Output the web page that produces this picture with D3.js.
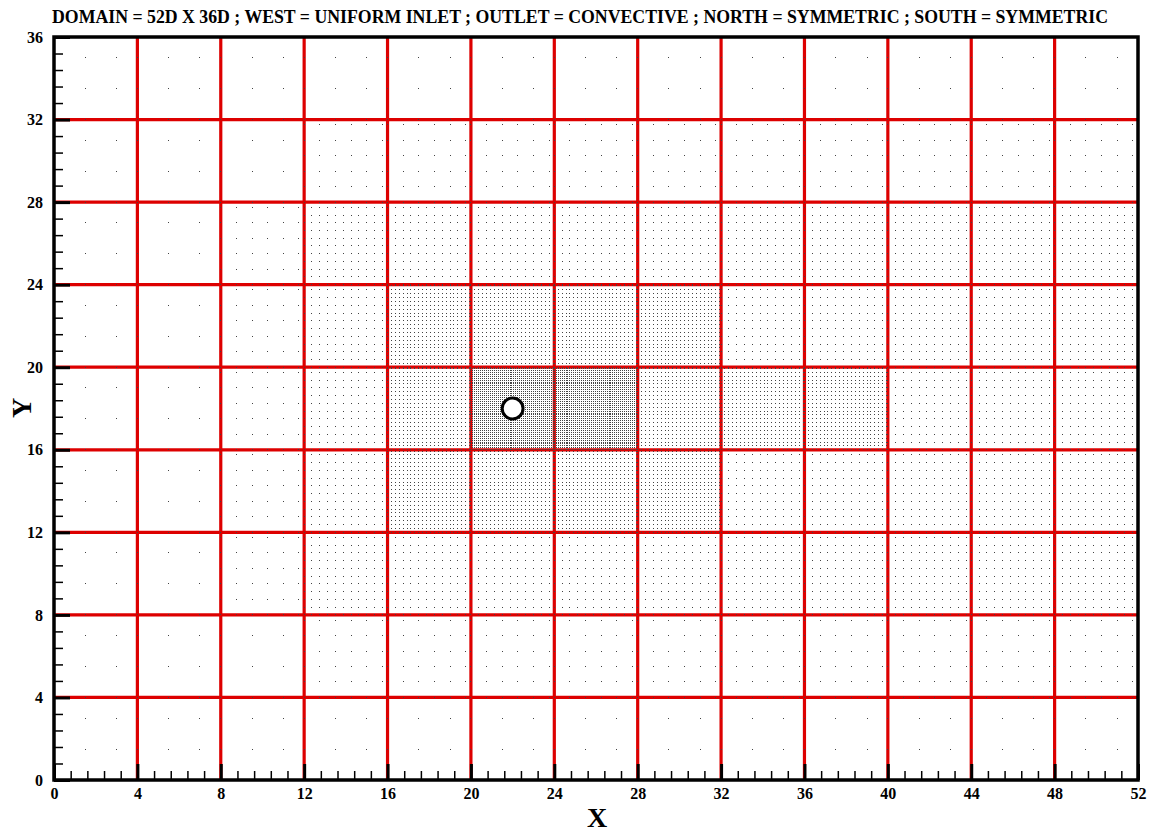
<!DOCTYPE html>
<html>
<head>
<meta charset="utf-8">
<script src="https://cdn.jsdelivr.net/npm/d3@7"></script>
<style>
  body { margin: 0; background: #fff; }
  text { font-family: "Liberation Serif", "Times New Roman", serif; font-weight: bold; fill: #000; }
</style>
</head>
<body>
<div id="chart"></div>
<script>
// chart text
var titleText = "DOMAIN = 52D X 36D ; WEST = UNIFORM INLET ; OUTLET = CONVECTIVE ; NORTH = SYMMETRIC ; SOUTH = SYMMETRIC";
var xTitle = "X";
var yTitle = "Y";

// tick labels
var xTicks = [0, 4, 8, 12, 16, 20, 24, 28, 32, 36, 40, 44, 48, 52];
var yTicks = [0, 4, 8, 12, 16, 20, 24, 28, 32, 36];
var minorStep = 0.8;

// red block grid lines
var gridX = [4, 8, 12, 16, 20, 24, 28, 32, 36, 40, 44, 48];
var gridY = [4, 8, 12, 16, 20, 24, 28, 32];
var blockSize = 4;

// mesh refinement zones (later zones are finer)
var zoneX0 = [0, 12, 8, 12, 16, 32, 20];
var zoneX1 = [52, 52, 12, 52, 32, 40, 28];
var zoneY0 = [0, 4, 8, 8, 12, 16, 16];
var zoneY1 = [36, 32, 28, 28, 24, 20, 20];
var zoneSpacing = [1.5, 0.75, 0.75, 0.375, 0.1875, 0.1875, 0.09375];

// cylinder
var cylX = [22];
var cylY = [18];
var cylD = [1];

var width = 1158;
var height = 832;
var plotLeft = 54, plotRight = 1138, plotTop = 37, plotBottom = 780;

var svg = d3.select("#chart")
    .append("svg")
    .attr("width", width)
    .attr("height", height);

svg.append("rect").attr("width", width).attr("height", height).attr("fill", "#fff");

var xScale = d3.scaleLinear().domain([0, 52]).range([plotLeft, plotRight]);
var yScale = d3.scaleLinear().domain([0, 36]).range([plotBottom, plotTop]);

// red grid
var grid = svg.append("g").attr("stroke", "#dd0000").attr("stroke-width", 3.2);
grid.selectAll("line.gx").data(gridX).enter().append("line")
    .attr("x1", function(d){ return xScale(d); })
    .attr("x2", function(d){ return xScale(d); })
    .attr("y1", yScale(36))
    .attr("y2", yScale(0));
grid.selectAll("line.gy").data(gridY).enter().append("line")
    .attr("y1", function(d){ return yScale(d); })
    .attr("y2", function(d){ return yScale(d); })
    .attr("x1", xScale(0))
    .attr("x2", xScale(52));

// mesh points: each 4x4 block uses the finest zone that covers it
function spacingAt(cx, cy) {
    var h = 99;
    for (var i = 0; i < zoneSpacing.length; i++) {
        if (cx > zoneX0[i] && cx < zoneX1[i] && cy > zoneY0[i] && cy < zoneY1[i]) {
            h = Math.min(h, zoneSpacing[i]);
        }
    }
    return h;
}

var dotPath = "";
for (var bx = 0; bx < 52; bx += blockSize) {
    for (var by = 0; by < 36; by += blockSize) {
        var h = spacingAt(bx + blockSize / 2, by + blockSize / 2);
        for (var i = 0; i * h < blockSize - 1e-9; i++) {
            for (var j = 0; j * h < blockSize - 1e-9; j++) {
                var px = Math.floor(xScale(bx + i * h));
                var py = Math.floor(yScale(by + j * h));
                dotPath += "M" + px + "," + py + "h1v1h-1z";
            }
        }
    }
}
svg.append("path").attr("d", dotPath).attr("fill", "#444");

// axes ticks (inward)
var xMinor = d3.range(0, 52 + 1e-9, minorStep).filter(function(v){ return Math.abs(v / 4 - Math.round(v / 4)) > 1e-6; });
var yMinor = d3.range(0, 36 + 1e-9, minorStep).filter(function(v){ return Math.abs(v / 4 - Math.round(v / 4)) > 1e-6; });

var xMinorAxis = d3.axisBottom(xScale).tickValues(xMinor).tickSize(-9).tickFormat("");
var yMinorAxis = d3.axisLeft(yScale).tickValues(yMinor).tickSize(-9).tickFormat("");
var xAxis = d3.axisBottom(xScale).tickValues(xTicks).tickSize(-16).tickPadding(8).tickFormat(d3.format("d"));
var yAxis = d3.axisLeft(yScale).tickValues(yTicks).tickSize(-16).tickPadding(11).tickFormat(d3.format("d"));

function styleAxis(g, w) {
    g.attr("font-size", null).attr("font-family", null);
    g.select(".domain").remove();
    g.selectAll(".tick line").attr("stroke", "#000").attr("stroke-width", w);
    g.selectAll(".tick text").style("font-size", "16px").attr("fill", "#000");
}

svg.append("g").attr("transform", `translate(0, ${plotBottom})`).call(xMinorAxis).call(styleAxis, 1.5);
svg.append("g").attr("transform", `translate(${plotLeft}, 0)`).call(yMinorAxis).call(styleAxis, 1.5);
svg.append("g").attr("transform", `translate(0, ${plotBottom})`).call(xAxis).call(styleAxis, 3);
svg.append("g").attr("transform", `translate(${plotLeft}, 0)`).call(yAxis).call(styleAxis, 3);

// cylinder
svg.selectAll("circle.cyl").data(cylX).enter().append("circle")
    .attr("cx", function(d){ return xScale(d); })
    .attr("cy", function(d, i){ return yScale(cylY[i]); })
    .attr("r", function(d, i){ return xScale(cylD[i] / 2) - xScale(0); })
    .attr("fill", "#fff")
    .attr("stroke", "#000")
    .attr("stroke-width", 3);

// frame
svg.append("rect")
    .attr("x", plotLeft).attr("y", plotTop)
    .attr("width", plotRight - plotLeft).attr("height", plotBottom - plotTop)
    .attr("fill", "none").attr("stroke", "#000").attr("stroke-width", 3.5);

// title, fitted to its width in the picture
var title = svg.append("text")
    .attr("x", 52).attr("y", 23)
    .attr("font-size", 16)
    .text(titleText);
var tw = title.node().getComputedTextLength();
title.attr("font-size", 16 * 1057 / tw);

// axis titles
svg.append("text")
    .attr("x", 597).attr("y", 827)
    .attr("text-anchor", "middle")
    .attr("font-size", 28)
    .text(xTitle);

svg.append("text")
    .attr("transform", "translate(31, 408) rotate(-90)")
    .attr("text-anchor", "middle")
    .attr("font-size", 28)
    .text(yTitle);
</script>
</body>
</html>
